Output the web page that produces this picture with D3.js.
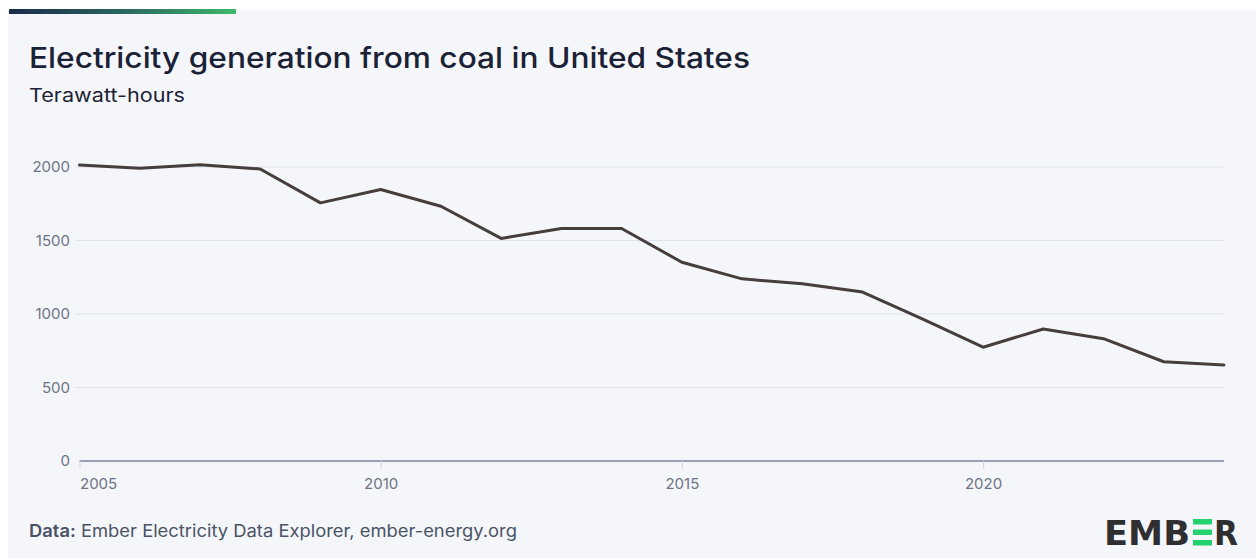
<!DOCTYPE html>
<html><head><meta charset="utf-8">
<script src="https://cdn.jsdelivr.net/npm/d3@7"></script>
<style>
html,body{margin:0;padding:0;background:#ffffff;}
svg{display:block;}
</style></head>
<body>
<svg id="chart" width="1256" height="558"></svg>
<script>
const years = [2005,2006,2007,2008,2009,2010,2011,2012,2013,2014,2015,2016,2017,2018,2019,2020,2021,2022,2023,2024];
const coalTWh = [2013,1991,2016,1986,1756,1847,1733,1514,1581,1582,1352,1239,1206,1149,965,774,898,832,675,653];
const yTicks = [0,500,1000,1500,2000];
const xTicks = [2005,2010,2015,2020];

const svg = d3.select("#chart");
const W = 1256, H = 558;
const font = "Inter, 'Open Sans', sans-serif";

// panel
svg.append("rect").attr("x",8).attr("y",10).attr("width",W-8).attr("height",H-10).attr("fill","#f4f6fa");
const grad = svg.append("defs").append("linearGradient").attr("id","topbar");
grad.append("stop").attr("offset","0%").attr("stop-color","#1b2a4a");
grad.append("stop").attr("offset","50%").attr("stop-color","#2a6660");
grad.append("stop").attr("offset","100%").attr("stop-color","#3fb86a");
svg.append("rect").attr("x",9).attr("y",9).attr("width",227).attr("height",5).attr("fill","url(#topbar)");

svg.append("text").attr("x",29).attr("y",68).attr("font-family",font).attr("font-size",29).attr("font-weight",500)
  .attr("fill","#1c2235").attr("textLength",721).attr("lengthAdjust","spacingAndGlyphs")
  .text("Electricity generation from coal in United States");
svg.append("text").attr("x",29).attr("y",102).attr("font-family",font).attr("font-size",18.5).attr("fill","#1c2235")
  .attr("textLength",156).attr("lengthAdjust","spacingAndGlyphs").text("Terawatt-hours");

const x = d3.scaleLinear().domain([2005,2024]).range([79.5,1224]);
const y = d3.scaleLinear().domain([0,2000]).range([461,167]);

// gridlines
svg.append("g").selectAll("line").data(yTicks.filter(d=>d>0)).join("line")
  .attr("x1",76).attr("x2",1224).attr("y1",d=>y(d)).attr("y2",d=>y(d))
  .attr("stroke","#dde2ec").attr("stroke-width",1);

// y axis labels
const yAxis = svg.append("g").attr("transform","translate(76,0)")
  .call(d3.axisLeft(y).tickValues(yTicks).tickSize(0).tickPadding(6).tickFormat(d3.format("d")));
yAxis.select(".domain").remove();
yAxis.selectAll("text").attr("font-family",font).attr("font-size",15).attr("fill","#6e7486");

// x axis
const xAxis = svg.append("g").attr("transform","translate(0,461)")
  .call(d3.axisBottom(x).tickValues(xTicks).tickSize(8).tickPadding(6).tickFormat(d3.format("d")));
xAxis.select(".domain").attr("stroke","#9aa1b0").attr("stroke-width",2).attr("d","M79.5,0H1224");
xAxis.selectAll(".tick line").attr("stroke","#d2d6de").attr("stroke-width",1);
xAxis.selectAll("text").attr("font-family",font).attr("font-size",15).attr("fill","#6e7486").attr("dy","0.9em");
xAxis.selectAll(".tick").filter(d=>d===2005).select("text").attr("text-anchor","start").attr("x",0);

// line
const line = d3.line().x((d,i)=>x(years[i])).y(d=>y(d));
svg.append("path").datum(coalTWh).attr("d",line).attr("fill","none")
  .attr("stroke","#463d3d").attr("stroke-width",3).attr("stroke-linejoin","round").attr("stroke-linecap","round");

// footer
const ft = svg.append("text").attr("x",29).attr("y",537).attr("font-family",font).attr("font-size",17).attr("fill","#4a5366")
  .attr("textLength",488).attr("lengthAdjust","spacingAndGlyphs");
ft.append("tspan").attr("font-weight",600).text("Data:");
ft.append("tspan").text(" Ember Electricity Data Explorer, ember-energy.org");

// logo
const lg = svg.append("g").attr("font-family","'DejaVu Sans', sans-serif").attr("font-weight",700).attr("font-size",33).attr("fill","#2f2f31");
lg.append("text").attr("x",1104).attr("y",545).attr("textLength",86).attr("lengthAdjust","spacingAndGlyphs").text("EMB");
[0,1,2].forEach(i=>{
  svg.append("rect").attr("x",1193).attr("y",519+i*10.5).attr("width",19).attr("height",5.5).attr("fill","#22d36f");
});
lg.append("text").attr("x",1214).attr("y",545).attr("textLength",24).attr("lengthAdjust","spacingAndGlyphs").text("R");
</script>
</body></html>
